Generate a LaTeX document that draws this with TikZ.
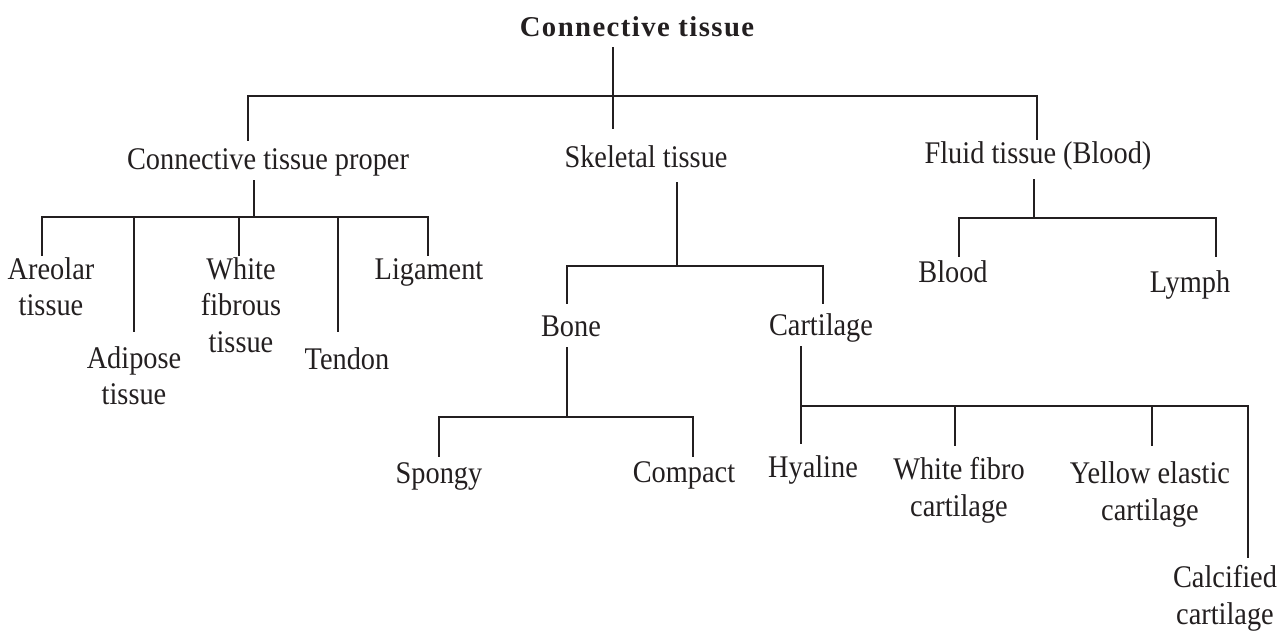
\documentclass[tikz,border=0pt]{standalone}
\usepackage{fontspec}
\setmainfont{Liberation Serif}[FakeStretch=0.9]
\newfontfamily\headfont{Liberation Serif}[LetterSpace=5]
\usepackage{tikz}
\usetikzlibrary{calc}
\definecolor{ink}{HTML}{231F20}
\tikzset{
  labm/.style={anchor=base, inner sep=0pt, align=center, text=ink, font=\fontsize{31.5}{36.5}\selectfont},
  lab/.style ={labm, text height=22pt, text depth=12pt},
  head/.style={lab, font=\headfont\bfseries\fontsize{28.7}{34}\selectfont},
  link/.style={draw=ink, line width=2.4pt, line cap=rect},
}

\begin{document}
\begin{tikzpicture}[x=1pt, y=-1pt]
  \useasboundingbox (0,0) rectangle (1286,633);
  \node[head] (top)      at (637,36)  {Connective tissue};
  \node[lab]  (proper)   at (268,169) {Connective tissue proper};
  \node[lab]  (skel)     at (646,167) {Skeletal tissue};
  \node[lab]  (fluid)    at (1038,163) {Fluid tissue (Blood)};
  \node[labm] (areolar)  at (51,315.5)  {Areolar\\tissue};
  \node[labm] (adipose)  at (134,404.5) {Adipose\\tissue};
  \node[labm] (white)    at (241,352) {White\\fibrous\\tissue};
  \node[lab]  (tendon)   at (347,369) {Tendon};
  \node[lab]  (ligament) at (429,279) {Ligament};
  \node[lab]  (bone)     at (571,336) {Bone};
  \node[lab]  (cart)     at (821,335) {Cartilage};
  \node[lab]  (blood)    at (953,282) {Blood};
  \node[lab]  (lymph)    at (1190,292) {Lymph};
  \node[lab]  (spongy)   at (439,483) {Spongy};
  \node[lab]  (compact)  at (684,482) {Compact};
  \node[lab]  (hyaline)  at (813,477) {Hyaline};
  \node[labm] (wfibro)   at (959,516) {White fibro\\cartilage};
  \node[labm] (yellow)   at (1150,520) {Yellow elastic\\cartilage};
  \node[labm] (calc)     at (1225,624) {Calcified\\cartilage};

  \coordinate (m0) at (613,96);
  \coordinate (m1) at (248,96);
  \coordinate (m2) at (1037,96);
  \coordinate (p0) at (254,217);
  \coordinate (p1) at (42,217);
  \coordinate (p2) at (134,217);
  \coordinate (p3) at (239,217);
  \coordinate (p4) at (338,217);
  \coordinate (p5) at (428,217);
  \coordinate (s0) at (677,266);
  \coordinate (s1) at (567,266);
  \coordinate (s2) at (823,266);
  \coordinate (f0) at (1034,218);
  \coordinate (f1) at (959,218);
  \coordinate (f2) at (1216,218);
  \coordinate (b0) at (567,417);
  \coordinate (b1) at (439,417);
  \coordinate (b2) at (693,417);
  \coordinate (c0) at (801,406);
  \coordinate (c1) at (955,406);
  \coordinate (c2) at (1152,406);
  \coordinate (c3) at (1248,406);

  \draw[link, shorten >=17pt] (top.south -| m0) -- (skel.north -| m0);
  \draw[link] (m1) -- (m2);
  \draw[link, shorten >=7pt] (m1) -- (proper.north -| m1);
  \draw[link, shorten >=2pt] (m2) -- (fluid.north -| m2);

  \draw[link] (proper.south -| p0) -- (p0);
  \draw[link] (p1) -- (p5);
  \draw[link, shorten >=2pt]  (p1) -- (areolar.north -| p1);
  \draw[link, shorten >=15pt] (p2) -- (adipose.north -| p2);
  \draw[link, shorten >=2pt]  (p3) -- (white.north -| p3);
  \draw[link, shorten >=16pt] (p4) -- (tendon.north -| p4);
  \draw[link, shorten >=2pt]  (p5) -- (ligament.north -| p5);

  \draw[link, shorten <=4pt] (skel.south -| s0) -- (s0);
  \draw[link] (s1) -- (s2);
  \draw[link, shorten >=11pt] (s1) -- (bone.north -| s1);
  \draw[link, shorten >=10pt] (s2) -- (cart.north -| s2);

  \draw[link, shorten <=5pt] (fluid.south -| f0) -- (f0);
  \draw[link] (f1) -- (f2);
  \draw[link, shorten >=4pt]  (f1) -- (blood.north -| f1);
  \draw[link, shorten >=14pt] (f2) -- (lymph.north -| f2);

  \draw[link] (bone.south -| b0) -- (b0);
  \draw[link] (b1) -- (b2);
  \draw[link, shorten >=5pt] (b1) -- (spongy.north -| b1);
  \draw[link, shorten >=4pt] (b2) -- (compact.north -| b2);

  \draw[link, shorten >=12pt] (cart.south -| c0) -- (hyaline.north -| c0);
  \draw[link] (c0) -- (c3);
  \draw[link, shorten >=12pt] (c1) -- (wfibro.north -| c1);
  \draw[link, shorten >=17pt] (c2) -- (yellow.north -| c2);
  \draw[link, shorten >=8pt]  (c3) -- (calc.north -| c3);
\end{tikzpicture}
\end{document}
